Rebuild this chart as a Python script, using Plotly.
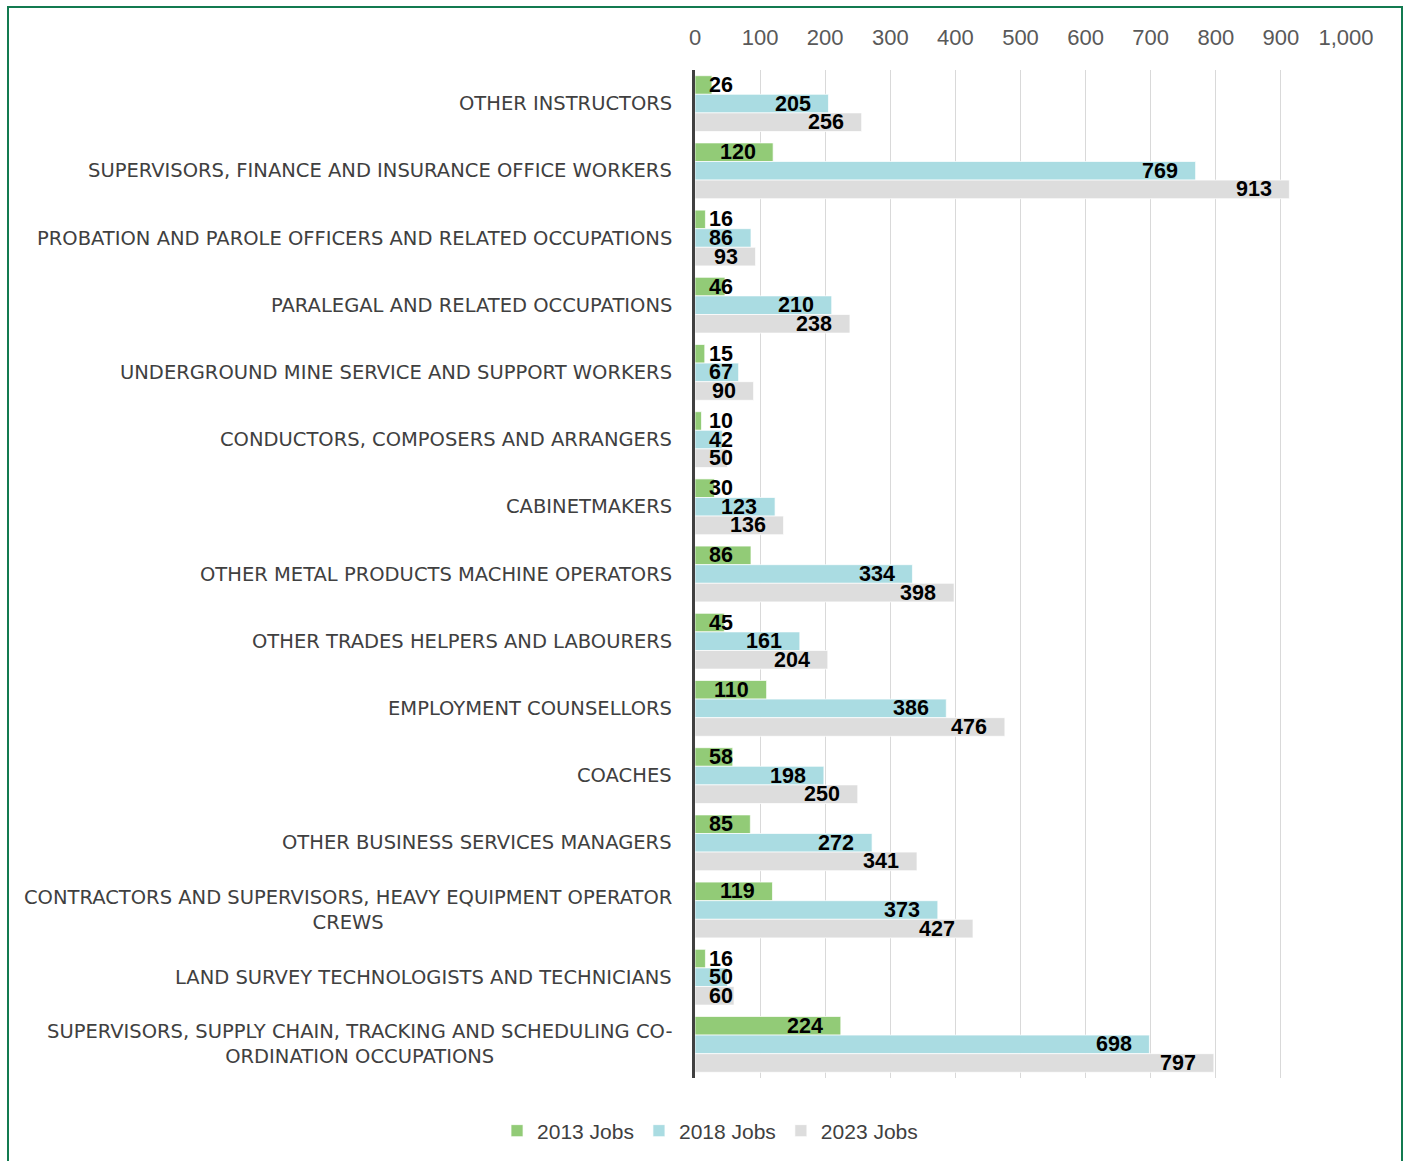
import plotly.graph_objects as go

# occupations, top to bottom as in the source chart
occupations = [
    "OTHER INSTRUCTORS",
    "SUPERVISORS, FINANCE AND INSURANCE OFFICE WORKERS",
    "PROBATION AND PAROLE OFFICERS AND RELATED OCCUPATIONS",
    "PARALEGAL AND RELATED OCCUPATIONS",
    "UNDERGROUND MINE SERVICE AND SUPPORT WORKERS",
    "CONDUCTORS, COMPOSERS AND ARRANGERS",
    "CABINETMAKERS",
    "OTHER METAL PRODUCTS MACHINE OPERATORS",
    "OTHER TRADES HELPERS AND LABOURERS",
    "EMPLOYMENT COUNSELLORS",
    "COACHES",
    "OTHER BUSINESS SERVICES MANAGERS",
    "CONTRACTORS AND SUPERVISORS, HEAVY EQUIPMENT OPERATOR<br>CREWS",
    "LAND SURVEY TECHNOLOGISTS AND TECHNICIANS",
    "SUPERVISORS, SUPPLY CHAIN, TRACKING AND SCHEDULING CO-<br>ORDINATION OCCUPATIONS",
]
jobs_2013 = [26, 120, 16, 46, 15, 10, 30, 86, 45, 110, 58, 85, 119, 16, 224]
jobs_2018 = [205, 769, 86, 210, 67, 42, 123, 334, 161, 386, 198, 272, 373, 50, 698]
jobs_2023 = [256, 913, 93, 238, 90, 50, 136, 398, 204, 476, 250, 341, 427, 60, 797]

x_ticks = [0, 100, 200, 300, 400, 500, 600, 700, 800, 900, 1000]
x_tick_text = ["0", "100", "200", "300", "400", "500", "600", "700", "800", "900", "1,000"]

series = [
    ("2013 Jobs", jobs_2013, "#92cb77"),
    ("2018 Jobs", jobs_2018, "#aadce2"),
    ("2023 Jobs", jobs_2023, "#dddddd"),
]

W, H = 1406, 1161
M = dict(l=695, r=60, t=70, b=83)
BARGAP = 0.17
plot_h = H - M["t"] - M["b"]
bar_px = plot_h / len(occupations) * (1 - BARGAP) / len(series)

label_font = dict(family="Liberation Sans Narrow, Arial Narrow, sans-serif", size=21.5, color="black")

fig = go.Figure()
for i, (name, vals, color) in enumerate(series):
    fig.add_trace(go.Bar(
        y=occupations, x=vals, name=name, orientation="h",
        marker=dict(color=color, line=dict(color="rgba(255,255,255,0.7)", width=1)),
    ))
    # value labels: right edge a little inside the bar end, never closer to the axis than Excel puts them
    for occ, v in zip(occupations, vals):
        x_right = max(v - 24, 25 + 18 * len(str(v)))
        fig.add_annotation(
            x=x_right, y=occ, xref="x", yref="y", xanchor="right", yanchor="middle",
            yshift=(1 - i) * bar_px, text=f"<b>{v}</b>", showarrow=False,
            font=label_font,
        )

# category labels as annotations so wrapped lines stay centred
for occ in occupations:
    fig.add_annotation(
        x=0, xref="paper", y=occ, yref="y", xanchor="right", yanchor="middle",
        xshift=-21, text=occ, showarrow=False, align="center",
        font=dict(family="DejaVu Sans, sans-serif", size=19.5, color="#404040"),
    )

# green frame around the chart (bottom edge runs off the page, as in the source)
fig.add_shape(type="rect", xref="paper", yref="paper",
              x0=(8 - M["l"]) / (W - M["l"] - M["r"]), x1=(1402 - M["l"]) / (W - M["l"] - M["r"]),
              y0=-0.12, y1=1 + (M["t"] - 7) / plot_h,
              line=dict(color="#137a50", width=2), fillcolor="rgba(0,0,0,0)")

fig.update_layout(
    width=W, height=H,
    margin=M,
    barmode="group", bargap=BARGAP, bargroupgap=0.0,
    plot_bgcolor="white", paper_bgcolor="white",
    showlegend=True,
    legend=dict(orientation="h", xref="container", yref="container",
                x=0.505, xanchor="center", y=(H - 1131) / H, yanchor="middle",
                font=dict(family="Liberation Sans, Arial, sans-serif", size=21, color="#404040"),
                itemwidth=30, traceorder="normal"),
    xaxis=dict(side="top", range=[0, 1000], tickvals=x_ticks, ticktext=x_tick_text,
               showgrid=True, gridcolor="#d9d9d9", gridwidth=1, zeroline=False,
               ticks="", ticklabelstandoff=20,
               tickfont=dict(family="Liberation Sans Narrow, Arial Narrow, sans-serif", size=22, color="#595959"),
               showline=False),
    yaxis=dict(autorange="reversed", showticklabels=False, ticks="", showgrid=False,
               showline=True, linecolor="#404040", linewidth=3, zeroline=False),
)

fig.write_html("out.html", config={"displayModeBar": False},
               post_script="document.body.style.margin='0';")
